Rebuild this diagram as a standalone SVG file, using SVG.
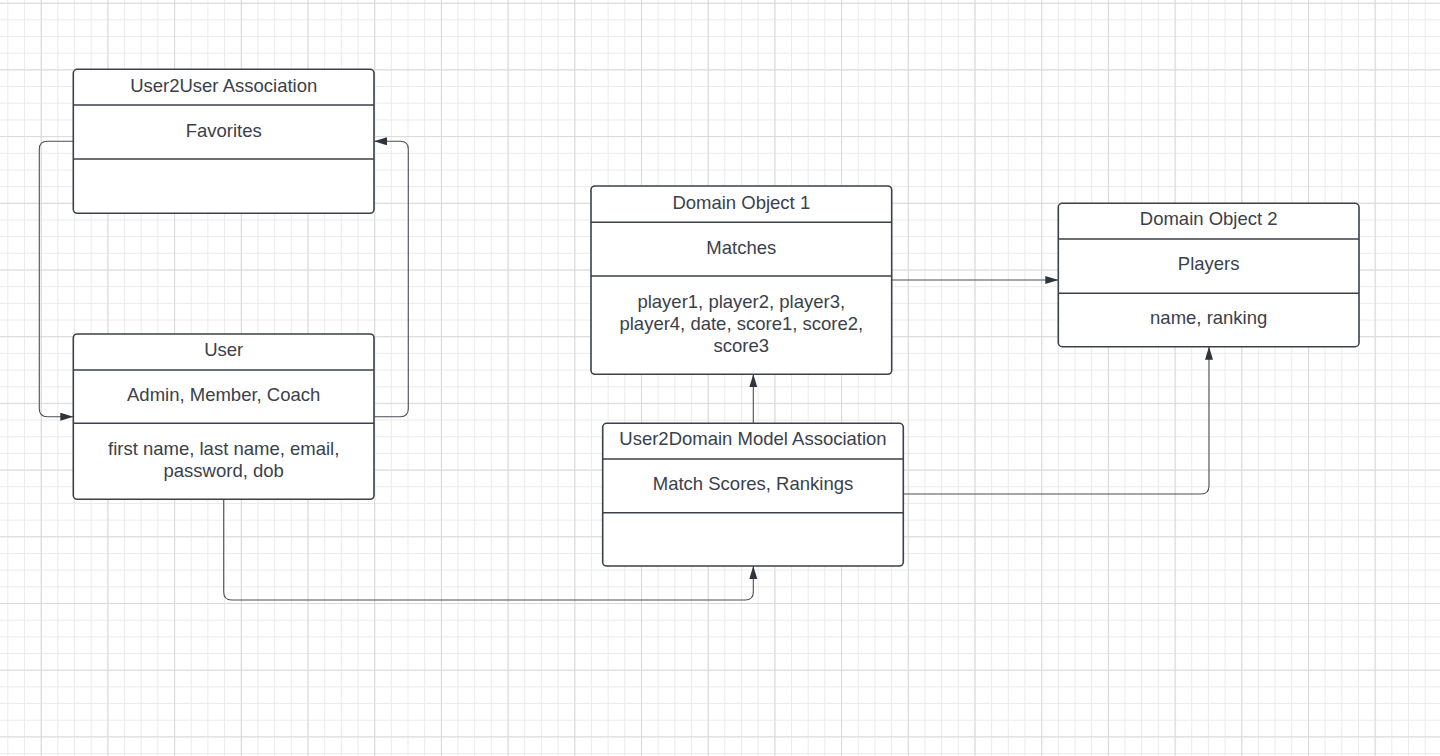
<svg xmlns="http://www.w3.org/2000/svg" width="1440" height="756" viewBox="0 0 1440 756">
<style>
.box{fill:#ffffff;stroke:#3a414a;stroke-width:1.6}
.div{stroke:#3a414a;stroke-width:1.6}
.t{font-family:"Liberation Sans",Arial,sans-serif;font-size:18.5px;fill:#3a414a;text-anchor:middle}
.c{fill:none;stroke:#4a4f57;stroke-width:1.1}
</style>
<defs>
<pattern id="minor" patternUnits="userSpaceOnUse" x="7.3" y="2.7" width="16.675" height="16.675">
<path d="M0.5,0 V16.675 M0,0.5 H16.675" stroke="#ebebeb" stroke-width="1" fill="none"/>
</pattern>
<pattern id="major" patternUnits="userSpaceOnUse" x="40.7" y="2.7" width="66.7" height="66.7">
<path d="M0.5,0 V66.7 M0,0.5 H66.7" stroke="#dadada" stroke-width="1.2" fill="none"/>
</pattern>
<marker id="arr" markerUnits="userSpaceOnUse" markerWidth="14" markerHeight="10" refX="13" refY="4" orient="auto">
<path d="M0,0 L13,4 L0,8 z" fill="#2f343b"/>
</marker>
</defs>
<rect width="1440" height="756" fill="#ffffff"/>
<rect width="1440" height="756" fill="url(#minor)"/>
<rect width="1440" height="756" fill="url(#major)"/>

<g id="connectors">
<path class="c" d="M73.3,141.3 H47.3 Q39.3,141.3 39.3,149.3 V408.7 Q39.3,416.7 47.3,416.7 H73.3" marker-end="url(#arr)"/>
<path class="c" d="M374,416.7 H400.3 Q408.3,416.7 408.3,408.7 V149.3 Q408.3,141.3 400.3,141.3 H374" marker-end="url(#arr)"/>
<path class="c" d="M891.7,280 H1058.3" marker-end="url(#arr)"/>
<path class="c" d="M753.3,423.3 V374.3" marker-end="url(#arr)"/>
<path class="c" d="M903.3,494 H1201 Q1209,494 1209,486 V346.7" marker-end="url(#arr)"/>
<path class="c" d="M223.7,499.3 V592 Q223.7,600 231.7,600 H745.3 Q753.3,600 753.3,592 V566" marker-end="url(#arr)"/>
</g>

<g id="user2user">
<rect class="box" x="73.3" y="69.3" width="300.7" height="144" rx="4"/>
<line class="div" x1="73.3" y1="105" x2="374" y2="105"/>
<line class="div" x1="73.3" y1="159" x2="374" y2="159"/>
<text class="t" x="223.7" y="91.5">User2User Association</text>
<text class="t" x="223.7" y="136.5">Favorites</text>
</g>

<g id="user">
<rect class="box" x="73.3" y="334" width="300.7" height="165.3" rx="4"/>
<line class="div" x1="73.3" y1="370" x2="374" y2="370"/>
<line class="div" x1="73.3" y1="423.3" x2="374" y2="423.3"/>
<text class="t" x="223.7" y="355.5">User</text>
<text class="t" x="223.7" y="400.5">Admin, Member, Coach</text>
<text class="t" x="223.7" y="454.5">first name, last name, email,</text>
<text class="t" x="223.7" y="477">password, dob</text>
</g>

<g id="domain1">
<rect class="box" x="591" y="186" width="300.7" height="188.3" rx="4"/>
<line class="div" x1="591" y1="222.3" x2="891.7" y2="222.3"/>
<line class="div" x1="591" y1="276" x2="891.7" y2="276"/>
<text class="t" x="741.3" y="208.5">Domain Object 1</text>
<text class="t" x="741.3" y="253.5">Matches</text>
<text class="t" x="741.3" y="308">player1, player2, player3,</text>
<text class="t" x="741.3" y="330">player4, date, score1, score2,</text>
<text class="t" x="741.3" y="352">score3</text>
</g>

<g id="domain2">
<rect class="box" x="1058.3" y="203.3" width="300.7" height="143.4" rx="4"/>
<line class="div" x1="1058.3" y1="239" x2="1359" y2="239"/>
<line class="div" x1="1058.3" y1="293.3" x2="1359" y2="293.3"/>
<text class="t" x="1208.7" y="225.3">Domain Object 2</text>
<text class="t" x="1208.7" y="270.3">Players</text>
<text class="t" x="1208.7" y="324">name, ranking</text>
</g>

<g id="user2domain">
<rect class="box" x="602.7" y="423.3" width="300.6" height="142.7" rx="4"/>
<line class="div" x1="602.7" y1="459" x2="903.3" y2="459"/>
<line class="div" x1="602.7" y1="512.7" x2="903.3" y2="512.7"/>
<text class="t" x="753" y="444.6">User2Domain Model Association</text>
<text class="t" x="753" y="489.6">Match Scores, Rankings</text>
</g>
</svg>
